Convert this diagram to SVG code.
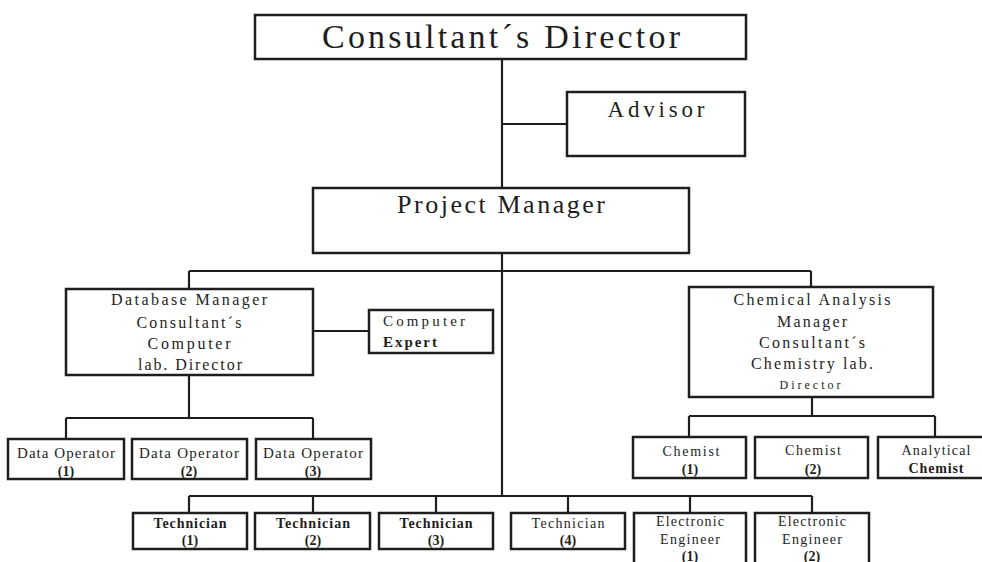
<svg xmlns="http://www.w3.org/2000/svg" width="982" height="562" viewBox="0 0 982 562">
  <style>
    .box { fill: #ffffff; stroke: #1e1e1e; stroke-width: 2.5; }
    .link { fill: none; stroke: #1e1e1e; stroke-width: 2.2; }
    text { font-family: "Liberation Serif", "Times New Roman", serif; fill: #1e1e1e; text-anchor: middle; }
    .b { font-weight: bold; }
    .t34 { font-size: 34px; }
    .t26 { font-size: 26px; }
    .t23 { font-size: 23px; }
    .t16 { font-size: 16px; }
    .t15 { font-size: 15px; }
    .t14 { font-size: 14px; }
    .t12 { font-size: 12px; }
  </style>
  <rect width="982" height="562" fill="#ffffff"/>

  <!-- connectors -->
  <g id="connectors" class="link">
    <path d="M502,59 V188"/>
    <path d="M502,253 V496"/>
    <path d="M502,124 H567"/>
    <path d="M189,271 H811 M189,271 V289 M811,271 V287"/>
    <path d="M313,331 H369"/>
    <path d="M189,375 V418 M66,418 H313 M66,418 V439 M313,418 V439"/>
    <path d="M812,397 V416 M689,416 H935 M689,416 V437 M935,416 V437"/>
    <path d="M189,496 H812 M189,496 V513 M313,496 V513 M436,496 V513 M568,496 V513 M690,496 V513 M812,496 V513"/>
  </g>

  <!-- top level -->
  <g id="director">
    <rect class="box" x="255" y="15" width="491" height="44"/>
    <text class="t34" x="501" y="48" textLength="358" lengthAdjust="spacing">Consultant´s Director</text>
  </g>
  <g id="advisor">
    <rect class="box" x="567" y="92" width="178" height="64"/>
    <text class="t23" x="656" y="117" textLength="97" lengthAdjust="spacing">Advisor</text>
  </g>
  <g id="project-manager">
    <rect class="box" x="313" y="188" width="376" height="65"/>
    <text class="t26" x="501" y="213" textLength="208" lengthAdjust="spacing">Project Manager</text>
  </g>

  <!-- database branch -->
  <g id="database-manager">
    <rect class="box" x="66" y="289" width="247" height="86"/>
    <text class="t16" x="189" y="305" textLength="156" lengthAdjust="spacing">Database Manager</text>
    <text class="t16" x="189" y="328" textLength="105" lengthAdjust="spacing">Consultant´s</text>
    <text class="t16" x="189" y="349" textLength="83" lengthAdjust="spacing">Computer</text>
    <text class="t16" x="190" y="370" textLength="104" lengthAdjust="spacing">lab. Director</text>
  </g>
  <g id="computer-expert">
    <rect class="box" x="369" y="310" width="124" height="43"/>
    <text class="t15" x="424" y="326" textLength="82" lengthAdjust="spacing">Computer</text>
    <text class="t15 b" x="410" y="347" textLength="54" lengthAdjust="spacing">Expert</text>
  </g>
  <g id="data-operator-1">
    <rect class="box" x="8" y="439" width="116" height="40"/>
    <text class="t15" x="66" y="458" textLength="98" lengthAdjust="spacing">Data Operator</text>
    <text class="t14 b" x="66" y="476">(1)</text>
  </g>
  <g id="data-operator-2">
    <rect class="box" x="132" y="439" width="115" height="40"/>
    <text class="t15" x="189" y="458" textLength="100" lengthAdjust="spacing">Data Operator</text>
    <text class="t14 b" x="189" y="476">(2)</text>
  </g>
  <g id="data-operator-3">
    <rect class="box" x="256" y="439" width="115" height="40"/>
    <text class="t15" x="313" y="458" textLength="100" lengthAdjust="spacing">Data Operator</text>
    <text class="t14 b" x="313" y="476">(3)</text>
  </g>

  <!-- chemistry branch -->
  <g id="chemical-analysis-manager">
    <rect class="box" x="689" y="287" width="244" height="110"/>
    <text class="t16" x="812" y="305" textLength="157" lengthAdjust="spacing">Chemical Analysis</text>
    <text class="t16" x="812" y="327" textLength="70" lengthAdjust="spacing">Manager</text>
    <text class="t16" x="812" y="348" textLength="106" lengthAdjust="spacing">Consultant´s</text>
    <text class="t16" x="812" y="369" textLength="122" lengthAdjust="spacing">Chemistry lab.</text>
    <text class="t12" x="810" y="389" textLength="61" lengthAdjust="spacing">Director</text>
  </g>
  <g id="chemist-1">
    <rect class="box" x="633" y="437" width="113" height="41"/>
    <text class="t14" x="691" y="456" textLength="57" lengthAdjust="spacing">Chemist</text>
    <text class="t14 b" x="690" y="474">(1)</text>
  </g>
  <g id="chemist-2">
    <rect class="box" x="755" y="437" width="113" height="41"/>
    <text class="t14" x="813" y="455" textLength="56" lengthAdjust="spacing">Chemist</text>
    <text class="t14 b" x="813" y="474">(2)</text>
  </g>
  <g id="analytical-chemist">
    <rect class="box" x="878" y="437" width="118" height="41"/>
    <text class="t14" x="936" y="455" textLength="69" lengthAdjust="spacing">Analytical</text>
    <text class="t14 b" x="936" y="473" textLength="55" lengthAdjust="spacing">Chemist</text>
  </g>

  <!-- technical staff -->
  <g id="technician-1">
    <rect class="box" x="133" y="513" width="114" height="36"/>
    <text class="t14 b" x="190" y="528" textLength="73" lengthAdjust="spacing">Technician</text>
    <text class="t14 b" x="190" y="545">(1)</text>
  </g>
  <g id="technician-2">
    <rect class="box" x="255" y="513" width="115" height="36"/>
    <text class="t14 b" x="313" y="528" textLength="74" lengthAdjust="spacing">Technician</text>
    <text class="t14 b" x="313" y="545">(2)</text>
  </g>
  <g id="technician-3">
    <rect class="box" x="379" y="513" width="114" height="36"/>
    <text class="t14 b" x="436" y="528" textLength="73" lengthAdjust="spacing">Technician</text>
    <text class="t14 b" x="436" y="545">(3)</text>
  </g>
  <g id="technician-4">
    <rect class="box" x="511" y="513" width="114" height="36"/>
    <text class="t14" x="568" y="528" textLength="73" lengthAdjust="spacing">Technician</text>
    <text class="t14 b" x="568" y="545">(4)</text>
  </g>
  <g id="electronic-engineer-1">
    <rect class="box" x="634" y="513" width="112" height="60"/>
    <text class="t14" x="690" y="526" textLength="68" lengthAdjust="spacing">Electronic</text>
    <text class="t14" x="690" y="544" textLength="60" lengthAdjust="spacing">Engineer</text>
    <text class="t14 b" x="690" y="561">(1)</text>
  </g>
  <g id="electronic-engineer-2">
    <rect class="box" x="755" y="513" width="114" height="60"/>
    <text class="t14" x="812" y="526" textLength="68" lengthAdjust="spacing">Electronic</text>
    <text class="t14" x="812" y="544" textLength="60" lengthAdjust="spacing">Engineer</text>
    <text class="t14 b" x="812" y="561">(2)</text>
  </g>
</svg>
